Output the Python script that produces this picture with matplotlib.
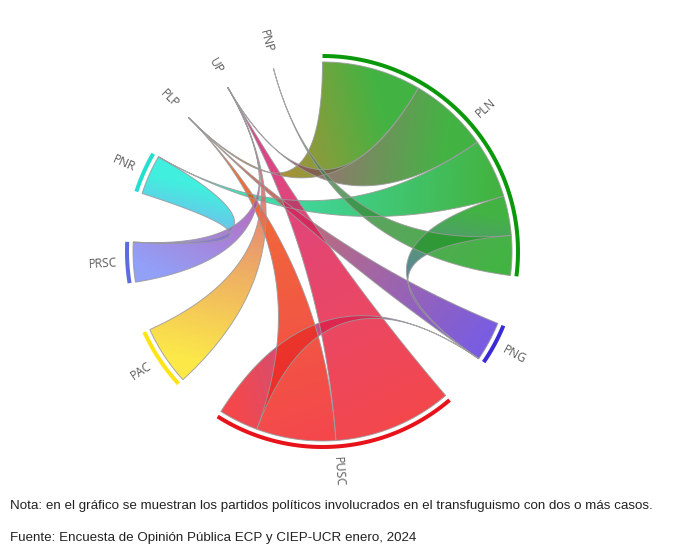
import numpy as np
import matplotlib
matplotlib.use("Agg")
import matplotlib.pyplot as plt
from matplotlib.patches import Polygon
import matplotlib.colors as mcolors

# ---------------- data ----------------
parties = ["PLN", "PNG", "PUSC", "PAC", "PRSC", "PNR", "PLP", "UP", "PNP"]
# share of each link on the arc of the row party (cases)
row_PLN  = [0, 2, 0, 0, 0, 3, 5, 4, 2]
row_PNG  = [0, 0, 0, 0, 0, 0, 2, 0, 0]
row_PUSC = [0, 2, 0, 0, 0, 0, 4, 6, 0]
row_PAC  = [0, 0, 0, 0, 0, 0, 0, 3, 0]
row_PRSC = [0, 0, 0, 0, 0, 0, 0, 2, 0]
row_PNR  = [0, 0, 0, 0, 2, 0, 0, 0, 0]
row_PLP  = [0, 0, 0, 0, 0, 0, 0, 0, 0]
row_UP   = [0, 0, 0, 0, 0, 0, 0, 0, 0]
row_PNP  = [0, 0, 0, 0, 0, 0, 0, 0, 0]
matrix = np.array([row_PLN, row_PNG, row_PUSC, row_PAC, row_PRSC,
                   row_PNR, row_PLP, row_UP, row_PNP], dtype=float)

arc_colors = ["#0b990b", "#3a2bd6", "#e8121a", "#ffe414", "#5b6de0",
              "#22e0cc", "#f08a20", "#d63d9c", "#8a8a8a"]
ribbon_colors = ["#42b442", "#785ce4", "#f4484c", "#fdea48", "#92a0f8",
                 "#40f0de", "#f07830", "#d64496", "#7f8f86"]

note = ("Nota: en el gráfico se muestran los partidos políticos involucrados "
        "en el transfuguismo con dos o más casos.")
source = "Fuente: Encuesta de Opinión Pública ECP y CIEP-UCR enero, 2024"

# ---------------- layout (d3-chord like) ----------------
W, H = 675, 550
cx, cy = 322.5, 251.5
r_rib = 189.5
r_arc_in, r_arc_out = 193.5, 197.5
r_lab = 206
pad = np.deg2rad(15)

n = len(parties)
sums = matrix.sum(axis=1)
k = (2 * np.pi - pad * n) / sums.sum()

groups = []
sub = {}
x = 0.0
for i in range(n):
    x0 = x
    idx = [j for j in range(n) if matrix[i, j] or matrix[j, i]]
    idx.sort(key=lambda j: -matrix[i, j])
    for j in idx:
        a0 = x
        x += matrix[i, j] * k
        sub[(i, j)] = (a0, x, matrix[i, j])
    groups.append((x0, x))
    x += pad

chords = []
for i in range(n):
    for j in range(i + 1, n):
        if (i, j) in sub:
            s, t = (i, j), (j, i)
            if sub[s][2] < sub[t][2]:
                s, t = t, s
            chords.append((s, t))


def pt(theta, r):
    return np.array([cx + r * np.sin(theta), cy - r * np.cos(theta)])


def arc_pts(a0, a1, r, m=60):
    th = np.linspace(a0, a1, max(2, m))
    return np.column_stack([cx + r * np.sin(th), cy - r * np.cos(th)])


def bez(p0, p2, m=80):
    t = np.linspace(0, 1, m)[:, None]
    c = np.array([cx, cy])
    return (1 - t) ** 2 * p0 + 2 * t * (1 - t) * c + t ** 2 * p2


fig = plt.figure(figsize=(W / 100, H / 100), dpi=100)
ax = fig.add_axes([0, 0, 1, 1])
ax.set_xlim(0, W)
ax.set_ylim(H, 0)
ax.axis("off")

alpha = 0.82


def base_rgb(hexc):
    c = np.array(mcolors.to_rgb(hexc))
    return np.clip((c - (1 - alpha)) / alpha, 0, 1)


for (s, t) in chords:
    sa0, sa1, _ = sub[s]
    ta0, ta1, _ = sub[t]
    pts = [arc_pts(sa0, sa1, r_rib),
           bez(pt(sa1, r_rib), pt(ta0, r_rib)),
           arc_pts(ta0, ta1, r_rib),
           bez(pt(ta1, r_rib), pt(sa0, r_rib))]
    poly = np.vstack(pts)
    patch = Polygon(poly, closed=True, facecolor="none", edgecolor="none")
    ax.add_patch(patch)
    A = pt((sa0 + sa1) / 2, r_rib)
    B = pt((ta0 + ta1) / 2, r_rib)
    xmin, ymin = poly.min(axis=0) - 2
    xmax, ymax = poly.max(axis=0) + 2
    nx = int(max(4, (xmax - xmin))) + 1
    ny = int(max(4, (ymax - ymin))) + 1
    gx, gy = np.meshgrid(np.linspace(xmin, xmax, nx), np.linspace(ymin, ymax, ny))
    d = B - A
    tt = ((gx - A[0]) * d[0] + (gy - A[1]) * d[1]) / (d @ d)
    tt = np.clip(tt, 0, 1)[..., None]
    cA = base_rgb(ribbon_colors[s[0]])
    cB = base_rgb(ribbon_colors[t[0]])
    img = (1 - tt) * cA + tt * cB
    rgba = np.concatenate([img, np.full(img.shape[:2] + (1,), alpha)], axis=2)
    im = ax.imshow(rgba, extent=(xmin, xmax, ymax, ymin), origin="upper",
                   interpolation="bilinear", aspect="auto", zorder=2)
    im.set_clip_path(patch)
    edge = Polygon(poly, closed=True, facecolor="none", edgecolor="#9a9a9a",
                   lw=0.7, alpha=0.85, zorder=3)
    ax.add_patch(edge)

for i, (a0, a1) in enumerate(groups):
    if a1 > a0:
        outer = arc_pts(a0, a1, r_arc_out)
        inner = arc_pts(a1, a0, r_arc_in)
        ax.add_patch(Polygon(np.vstack([outer, inner]), closed=True,
                             facecolor=arc_colors[i], edgecolor="none", zorder=4))
    mid = (a0 + a1) / 2
    p = pt(mid, r_lab)
    phi = 90 - np.rad2deg(mid)
    if np.rad2deg(mid) < 180:
        rot, ha = phi, "left"
    else:
        rot, ha = phi + 180, "right"
    ax.text(p[0], p[1], parties[i], rotation=rot, rotation_mode="anchor",
            ha=ha, va="center", fontsize=8.6, color="#5a5a5a",
            family="Open Sans", zorder=5)

ax.set_xlim(0, W)
ax.set_ylim(H, 0)

fig.text(10 / W, 1 - 506 / H, note, fontsize=9.6, family="Liberation Sans",
         color="#222222", va="center", ha="left")
fig.text(10 / W, 1 - 538 / H, source, fontsize=9.6, family="Liberation Sans",
         color="#222222", va="center", ha="left")

fig.savefig("out.png", dpi=100)
